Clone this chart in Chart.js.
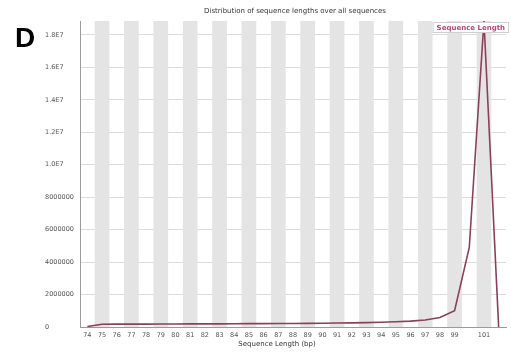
<!DOCTYPE html>
<html>
<head>
<meta charset="utf-8">
<script src="https://cdn.jsdelivr.net/npm/chart.js@4/dist/chart.umd.min.js"></script>
<style>
  html, body { margin: 0; padding: 0; background: #fff; }
  #wrap { position: relative; width: 511px; height: 352px; }
  #panel { position: absolute; left: 15px; top: 24px; font: bold 28px "Liberation Sans", Arial, sans-serif; color: #000; line-height: 1; }
</style>
</head>
<body>
<div id="wrap">
  <canvas id="c" width="511" height="352"></canvas>
  <div id="panel">D</div>
</div>
<script>
// Read lengths (bp) and number of reads at each length
const lengths = [74, 75, 76, 77, 78, 79, 80, 81, 82, 83, 84, 85, 86, 87, 88, 89, 90,
                 91, 92, 93, 94, 95, 96, 97, 98, 99, 100, 101, 102];
const readCounts = [30000, 170000, 175000, 180000, 180000, 185000, 185000, 190000, 190000,
                    195000, 200000, 205000, 210000, 215000, 220000, 225000, 235000, 245000,
                    255000, 270000, 290000, 320000, 360000, 430000, 580000, 1000000,
                    4900000, 18860000, 0];
// Length labels that are left blank on the axis
const hiddenLengths = [100, 102];
const yTicks = [0, 2000000, 4000000, 6000000, 8000000, 10000000, 12000000, 14000000, 16000000, 18000000];

const chartTitle = 'Distribution of sequence lengths over all sequences';
const xTitle = 'Sequence Length (bp)';
const seriesName = 'Sequence Length';

const FONT = '"DejaVu Sans", Verdana, sans-serif';

// Alternating grey bands behind every other length
const bandsPlugin = {
  id: 'bands',
  beforeDatasetsDraw(chart) {
    const { ctx, chartArea, scales } = chart;
    const x = scales.x;
    const w = x.width / lengths.length;
    ctx.save();
    ctx.fillStyle = '#e4e4e4';
    lengths.forEach((l, i) => {
      if (i % 2 === 1) {
        const cx = x.getPixelForValue(i);
        ctx.fillRect(cx - w / 2, chartArea.top, w, chartArea.bottom - chartArea.top);
      }
    });
    ctx.restore();
  }
};

// Titles and the series key box
const textPlugin = {
  id: 'texts',
  afterDraw(chart) {
    const { ctx, chartArea } = chart;
    const mid = (chartArea.left + chartArea.right) / 2;
    ctx.save();
    ctx.fillStyle = '#333';
    ctx.textAlign = 'center';
    ctx.textBaseline = 'middle';
    ctx.font = '7px ' + FONT;
    ctx.fillText(chartTitle, mid + 2, 11);
    ctx.fillText(xTitle, mid - 16, 344);

    // key box in the top-right corner of the plot
    ctx.font = 'bold 7px ' + FONT;
    const tw = ctx.measureText(seriesName).width;
    const bw = tw + 8, bh = 11;
    const bx = chartArea.right - bw + 3, by = chartArea.top + 1;
    ctx.fillStyle = '#fff';
    ctx.fillRect(bx, by, bw, bh);
    ctx.strokeStyle = '#cfcfcf';
    ctx.lineWidth = 1;
    ctx.strokeRect(bx + 0.5, by + 0.5, bw - 1, bh - 1);
    ctx.fillStyle = '#b04a78';
    ctx.textAlign = 'left';
    ctx.fillText(seriesName, bx + 4, by + bh / 2 + 0.5);
    ctx.restore();
  }
};

new Chart(document.getElementById('c'), {
  type: 'line',
  data: {
    labels: lengths.map(String),
    datasets: [{
      label: seriesName,
      data: readCounts,
      borderColor: '#8a4059',
      borderWidth: 1.6,
      pointRadius: 0,
      tension: 0,
      fill: false
    }]
  },
  options: {
    responsive: false,
    animation: false,
    layout: { padding: { left: 45, right: 5, top: 21, bottom: 0 } },
    plugins: {
      legend: { display: false },
      title: { display: false },
      tooltip: { enabled: false }
    },
    scales: {
      x: {
        type: 'category',
        offset: true,
        grid: { display: false, drawTicks: false },
        border: { display: true, color: '#9a9a9a', width: 1 },
        ticks: {
          autoSkip: false,
          maxRotation: 0,
          padding: 4,
          color: '#555',
          font: { family: FONT, size: 6.5 },
          callback: (v, i) => hiddenLengths.includes(lengths[i]) ? '' : String(lengths[i])
        },
        afterFit(scale) { scale.height = 25; }
      },
      y: {
        min: 0,
        max: 18860000,
        afterBuildTicks(scale) { scale.ticks = yTicks.map(v => ({ value: v })); },
        grid: { color: '#dcdcdc', lineWidth: 1, drawTicks: false },
        border: { display: true, color: '#9a9a9a', width: 1 },
        ticks: {
          crossAlign: 'far',
          padding: 0,
          color: '#555',
          font: { family: FONT, size: 6.5 },
          callback: v => v >= 10000000 ? (v / 10000000).toFixed(1) + 'E7' : String(v)
        },
        afterFit(scale) { scale.width = 35; }
      }
    }
  },
  plugins: [bandsPlugin, textPlugin]
});
</script>
</body>
</html>
